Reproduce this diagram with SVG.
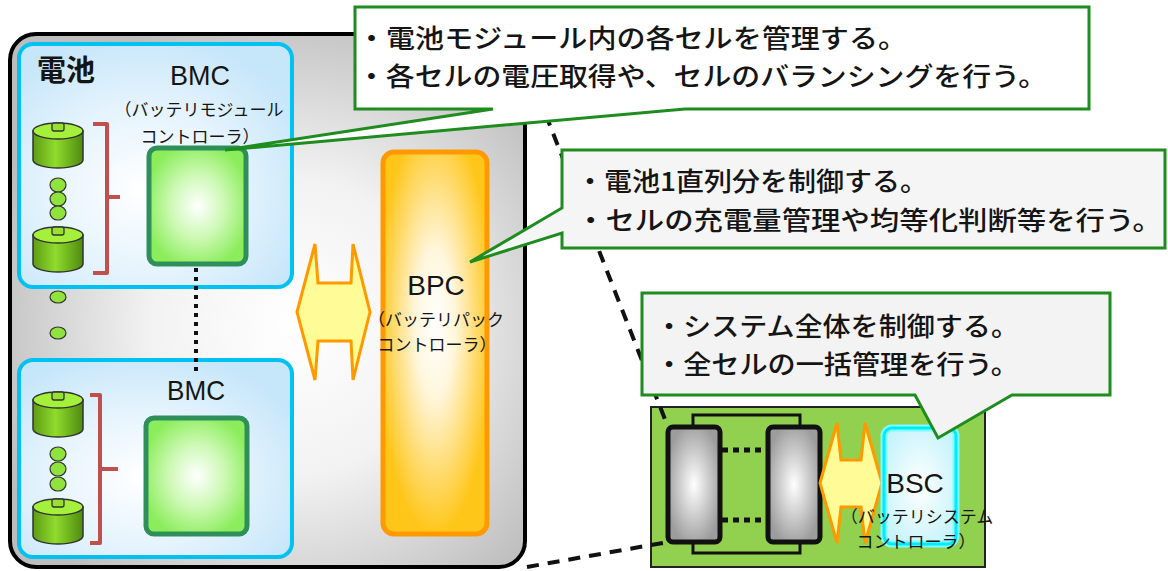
<svg xmlns="http://www.w3.org/2000/svg" xmlns:xlink="http://www.w3.org/1999/xlink" width="1168" height="571" viewBox="0 0 1168 571">
  <style>
    .jp { font-family: "Noto Sans CJK JP", "Noto Sans", sans-serif; fill: #151515; }
    .en { font-family: "Liberation Sans", Arial, sans-serif; fill: #151515; }
    .callout { stroke: #1e8c1e; stroke-width: 3; stroke-linejoin: miter; }
    .module { stroke: #00c2f2; stroke-width: 4; fill: url(#modGrad); }
    .bmc { stroke: #2f8f5a; stroke-width: 5; fill: url(#bmcGrad); }
    .bracket { fill: none; stroke: #c0504d; stroke-width: 4; stroke-linejoin: round; }
    .dot { fill: #8fe33c; stroke: #333; stroke-width: 1.2; }
    .xfer { fill: #fffb96; stroke: #ff9900; stroke-width: 3; stroke-linejoin: miter; }
    .cellbox { fill: url(#cellGrad); stroke: #111; stroke-width: 5; }
    .sub { font-size: 17px; text-anchor: middle; dominant-baseline: central; }
    .big { font-size: 28px; }
    .line { font-size: 26px; font-weight: 500; dominant-baseline: central; }
  </style>
  <defs>
    <radialGradient id="panelGrad" cx="0.55" cy="0.55" r="0.62">
      <stop offset="0" stop-color="#ffffff"/>
      <stop offset="0.45" stop-color="#f2f2f2"/>
      <stop offset="1" stop-color="#bdbdbd"/>
    </radialGradient>
    <radialGradient id="modGrad" cx="0.45" cy="0.6" r="0.65">
      <stop offset="0" stop-color="#ffffff"/>
      <stop offset="0.55" stop-color="#e4f3fd"/>
      <stop offset="1" stop-color="#c6e6fa"/>
    </radialGradient>
    <radialGradient id="bmcGrad" cx="0.5" cy="0.5" r="0.55">
      <stop offset="0" stop-color="#ffffff"/>
      <stop offset="0.5" stop-color="#cdf9b4"/>
      <stop offset="1" stop-color="#8ced5c"/>
    </radialGradient>
    <radialGradient id="bpcGrad" cx="0.5" cy="0.45" r="0.55">
      <stop offset="0" stop-color="#ffffff"/>
      <stop offset="0.35" stop-color="#fff6dc"/>
      <stop offset="1" stop-color="#ffc61a"/>
    </radialGradient>
    <radialGradient id="cellGrad" cx="0.5" cy="0.5" r="0.55">
      <stop offset="0" stop-color="#ffffff"/>
      <stop offset="1" stop-color="#9c9c9c"/>
    </radialGradient>
    <radialGradient id="bscGrad" cx="0.5" cy="0.5" r="0.6">
      <stop offset="0" stop-color="#ffffff"/>
      <stop offset="1" stop-color="#c4f3fb"/>
    </radialGradient>
    <linearGradient id="cylBody" x1="0" y1="0" x2="1" y2="0">
      <stop offset="0" stop-color="#5d9c16"/>
      <stop offset="0.45" stop-color="#8fdc2c"/>
      <stop offset="1" stop-color="#4f8a10"/>
    </linearGradient>
    <!-- one battery cell (cylinder with terminal tab) -->
    <g id="cyl">
      <path d="M0,10 V39 A25,8 0 0 0 50,39 V10 Z" fill="url(#cylBody)" stroke="#333" stroke-width="1.5"/>
      <ellipse cx="25" cy="10" rx="25" ry="8" fill="#a4f03a" stroke="#333" stroke-width="1.5"/>
      <rect x="19" y="2" width="12" height="8" rx="2" fill="#98e030" stroke="#333" stroke-width="1.3"/>
    </g>
  </defs>

  <!-- battery pack panel -->
  <g id="pack">
    <rect x="10" y="34" width="515" height="533" rx="26" fill="url(#panelGrad)" stroke="#000" stroke-width="4"/>
    <ellipse class="dot" cx="58" cy="297" rx="8" ry="6"/>
    <ellipse class="dot" cx="58" cy="333" rx="8" ry="6"/>
    <ellipse class="dot" cx="58" cy="371" rx="8" ry="6"/>
  </g>

  <!-- upper battery module -->
  <g id="module-upper">
    <rect class="module" x="19" y="44" width="273" height="243" rx="14"/>
    <text class="jp" x="37" y="68" font-size="29" font-weight="bold" dominant-baseline="central">電池</text>
    <use href="#cyl" x="33" y="121"/>
    <ellipse class="dot" cx="58" cy="185" rx="8" ry="7"/>
    <ellipse class="dot" cx="58" cy="199" rx="8" ry="7"/>
    <ellipse class="dot" cx="58" cy="213" rx="8" ry="7"/>
    <use href="#cyl" x="33" y="225"/>
    <path class="bracket" d="M93,124 H107 V197 H120 M107,197 V273 H93"/>
  </g>
  <g id="bmc-upper">
    <text class="en big" x="200" y="85" text-anchor="middle" textLength="60" lengthAdjust="spacingAndGlyphs">BMC</text>
    <text class="jp sub" x="199" y="108">（バッテリモジュール</text>
    <text class="jp sub" x="200" y="135">コントローラ）</text>
    <rect class="bmc" x="149" y="148" width="97" height="116" rx="8"/>
  </g>

  <!-- lower battery module -->
  <g id="module-lower">
    <rect class="module" x="19" y="360" width="273" height="197" rx="14"/>
    <use href="#cyl" x="33" y="390"/>
    <ellipse class="dot" cx="58" cy="454" rx="8" ry="7"/>
    <ellipse class="dot" cx="58" cy="469" rx="8" ry="7"/>
    <ellipse class="dot" cx="58" cy="484" rx="8" ry="7"/>
    <use href="#cyl" x="33" y="497"/>
    <path class="bracket" d="M90,395 H100 V469 H118 M100,469 V543 H90"/>
  </g>
  <g id="bmc-lower">
    <text class="en big" x="196" y="400" text-anchor="middle" textLength="58" lengthAdjust="spacingAndGlyphs">BMC</text>
    <rect class="bmc" x="146" y="418" width="101" height="116" rx="8"/>
  </g>

  <!-- pack controller -->
  <g id="bpc">
    <rect x="383" y="152" width="104" height="382" rx="11" fill="url(#bpcGrad)" stroke="#ff9900" stroke-width="5"/>
    <text class="en big" x="436" y="295" text-anchor="middle">BPC</text>
    <text class="jp sub" x="436" y="318">（バッテリパック</text>
    <text class="jp sub" x="437" y="343">コントローラ）</text>
  </g>

  <!-- system: battery string -->
  <g id="system">
    <rect x="651" y="407" width="334" height="160" fill="#92d050" stroke="#222" stroke-width="2"/>
    <path d="M693,427 V415 H800 V427 M693,542 V553 H800 V542" fill="none" stroke="#111" stroke-width="3"/>
    <rect class="cellbox" x="668" y="427" width="52" height="115" rx="5"/>
    <rect class="cellbox" x="768" y="427" width="52" height="115" rx="5"/>
  </g>

  <!-- connectors -->
  <g id="connectors">
    <line x1="196" y1="268" x2="196" y2="372" stroke="#111" stroke-width="4" stroke-dasharray="4 5"/>
    <polygon class="xfer" points="297,312 315,244 318,283 351,283 353,244 370,312 353,380 351,341 318,341 315,380"/>
    <line x1="722" y1="450" x2="766" y2="450" stroke="#111" stroke-width="5" stroke-dasharray="6 5"/>
    <line x1="722" y1="520" x2="766" y2="520" stroke="#111" stroke-width="5" stroke-dasharray="6 5"/>
    <polygon class="xfer" points="820,483 837,423 841,460 861,460 865,423 882,483 865,543 861,507 841,507 837,543"/>
    <line x1="515" y1="36" x2="668" y2="427" stroke="#111" stroke-width="4" stroke-dasharray="12 9"/>
    <line x1="527" y1="567" x2="668" y2="542" stroke="#111" stroke-width="4" stroke-dasharray="12 9"/>
  </g>

  <!-- system controller -->
  <g id="bsc">
    <rect x="884" y="428" width="72" height="116" rx="8" fill="url(#bscGrad)" stroke="#7ffcff" stroke-width="7"/>
    <rect x="884" y="428" width="72" height="116" rx="8" fill="none" stroke="#00eaff" stroke-width="3"/>
    <text class="en big" x="915" y="493" text-anchor="middle">BSC</text>
    <text class="jp sub" x="917" y="515">（バッテリシステム</text>
    <text class="jp sub" x="916" y="540">コントローラ）</text>
  </g>

  <!-- callouts -->
  <g id="callout-bmc">
    <path class="callout" fill="#ffffff" d="M355,7 H1089 V109 H685 L225,150 L493,109 H355 Z"/>
    <text class="jp line" x="357" y="36" textLength="550" lengthAdjust="spacingAndGlyphs">・電池モジュール内の各セルを管理する。</text>
    <text class="jp line" x="357" y="74" textLength="690" lengthAdjust="spacingAndGlyphs">・各セルの電圧取得や、セルのバランシングを行う。</text>
  </g>
  <g id="callout-bpc">
    <path class="callout" fill="#f5f5f5" d="M562,150 H1165 V248 H562 V233 L470,262 L562,208 Z"/>
    <text class="jp line" x="576" y="179" textLength="352" lengthAdjust="spacingAndGlyphs">・電池1直列分を制御する。</text>
    <text class="jp line" x="576" y="218" textLength="586" lengthAdjust="spacingAndGlyphs">・セルの充電量管理や均等化判断等を行う。</text>
  </g>
  <g id="callout-bsc">
    <path class="callout" fill="#f3f3f3" d="M642,293 H1110 V395 H1012 L938,438 L915,395 H642 Z"/>
    <text class="jp line" x="655" y="324" textLength="364" lengthAdjust="spacingAndGlyphs">・システム全体を制御する。</text>
    <text class="jp line" x="655" y="362" textLength="364" lengthAdjust="spacingAndGlyphs">・全セルの一括管理を行う。</text>
  </g>
</svg>
